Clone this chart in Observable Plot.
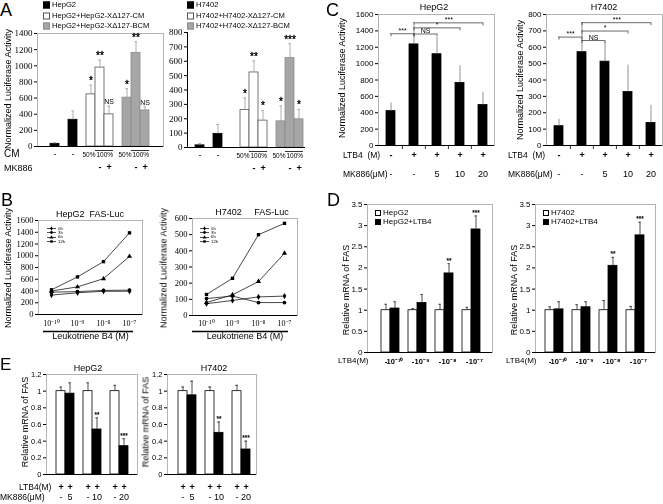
<!DOCTYPE html>
<html><head><meta charset="utf-8">
<script src="https://cdn.jsdelivr.net/npm/d3@7"></script>
<script src="https://cdn.jsdelivr.net/npm/@observablehq/plot@0.6"></script>
<style>
body{margin:0;background:#fff;}
#root{position:relative;width:663px;height:504px;overflow:hidden;font-family:"Liberation Sans",Arial,sans-serif;color:#000;background:#fff;}
.t{position:absolute;white-space:pre;line-height:1;}
#root svg{will-change:transform;}
</style></head><body><div id="root"></div>
<script>
// ================= DATA =================
// Panel A
const A_bars = ["b1","b2","w1","w2","w3","g1","g2","g3"];
const A_fills = ["#000","#000","#fff","#fff","#fff","#a6a6a6","#a6a6a6","#a6a6a6"];
const A_strokes = ["#000","#000","#555","#555","#555","#8c8c8c","#8c8c8c","#8c8c8c"];
const A1_values = [33, 331, 646, 978, 398, 605, 1160, 447];
const A1_errors = [48, 440, 760, 1070, 500, 717, 1297, 490];
const A1_stars = ["", "", "*", "**", "NS", "*", "**", "NS"];
const A2_values = [15, 95, 261, 522, 187, 182, 622, 196];
const A2_errors = [28, 160, 345, 603, 258, 290, 722, 265];
const A2_stars = ["", "", "*", "**", "*", "*", "***", "*"];
const A_cmKeys = ["b1","b2"];
const A_cmLabels = ["-","-"];
const A_cm50Keys = ["w1","g1"];
const A_cm50Labels = ["50%","50%"];
const A_cm100Keys = ["w2","g2"];
const A_cm100Labels = ["100%","100%"];
const A_mkKeys = ["w2","w3","g2","g3"];
const A_mkLabels = ["-","+","-","+"];
const A1_legend = ["HepG2","HepG2+HepG2-X\u0394127-CM","HepG2+HepG2-X\u0394127-BCM"];
const A2_legend = ["H7402","H7402+H7402-X\u0394127-CM","H7402+H7402-X\u0394127-BCM"];

// Panel B
const B_doses = ["1e-10","1e-9","1e-8","1e-7"];
const B_doseLabels = ["10\u207B\u00B9\u2070","10\u207B\u2079","10\u207B\u2078","10\u207B\u2077"];
const B_times = ["0h","3h","6h","12h"];
const B_symbols = ["diamond","circle","triangle","square"];
const B1_0h = [330, 370, 395, 395];
const B1_3h = [380, 390, 410, 415];
const B1_6h = [400, 470, 610, 990];
const B1_12h = [420, 640, 900, 1390];
const B2_0h = [73, 93, 115, 120];
const B2_3h = [105, 120, 80, 80];
const B2_6h = [80, 128, 210, 385];
const B2_12h = [130, 230, 500, 570];

// Panel C
const C_bars = ["1","2","3","4","5"];
const C_ltb4 = ["-","+","+","+","+"];
const C_mk886 = ["-","-","5","10","20"];
const C1_values = [420, 1235, 1115, 765, 495];
const C1_errors = [520, 1460, 1320, 975, 650];
const C2_values = [118, 570, 512, 327, 138];
const C2_errors = [160, 750, 630, 490, 245];
const C1_brackets = [{a:"1",b:"2",y:1365,t:"***"},{a:"2",b:"3",y:1362,t:"NS"},{a:"2",b:"4",y:1437,t:"*"},{a:"2",b:"5",y:1498,t:"***"}];
const C2_brackets = [{a:"1",b:"2",y:662,t:"***"},{a:"2",b:"3",y:641,t:"NS"},{a:"2",b:"4",y:699,t:"*"},{a:"2",b:"5",y:750,t:"***"}];

// Panel D
const D_doses = ["10\u207B\u00B9\u2070","10\u207B\u2079","10\u207B\u2078","10\u207B\u2077"];
const D1_ctrl = [1, 1, 1, 1];
const D1_ctrlErr = [1.14, 1.04, 1.14, 1.07];
const D1_ltb4 = [1.04, 1.17, 1.87, 2.91];
const D1_ltb4Err = [1.2, 1.37, 2.1, 3.23];
const D2_ctrl = [1, 1, 1, 1];
const D2_ctrlErr = [1.08, 1.13, 1.23, 1.09];
const D2_ltb4 = [1.02, 1.07, 2.05, 2.77];
const D2_ltb4Err = [1.2, 1.2, 2.25, 3.08];
const D_stars = ["", "", "**", "***"];
const D1_legend = ["HepG2","HepG2+LTB4"];
const D2_legend = ["H7402","H7402+LTB4"];

// Panel E
const E_mk886 = ["5","10","20"];
const E1_ctrl = [1, 1, 1];
const E1_ctrlErr = [1.05, 1.1, 1.07];
const E1_mk = [0.97, 0.54, 0.34];
const E1_mkErr = [1.1, 0.68, 0.43];
const E2_ctrl = [1, 1, 1];
const E2_ctrlErr = [1.05, 1.05, 1.07];
const E2_mk = [0.95, 0.5, 0.3];
const E2_mkErr = [1.12, 0.63, 0.4];
const E_stars = ["", "**", "***"];

// ================= HELPERS =================
const SANS = '"Liberation Sans", Arial, sans-serif';
const SERIF = '"Liberation Serif", "Times New Roman", serif';
const FRAME = "#b4b4b4";
const root = document.getElementById("root");
function put(el, x, y){ el.style.position="absolute"; el.style.left=x+"px"; el.style.top=y+"px"; root.appendChild(el); return el; }
function label(text, x, y, o={}){
  const d=document.createElement("div"); d.className="t"; d.textContent=text;
  d.style.fontSize=(o.size||9)+"px"; d.style.fontWeight=o.weight||"normal";
  if(o.family) d.style.fontFamily=o.family;
  const tx=o.anchor==="middle"?"-50%":o.anchor==="end"?"-100%":"0";
  d.style.transform=`translate(${tx},-50%)`;
  return put(d,x,y);
}
function vlabel(text, cx, cy, size=9){
  const d=document.createElement("div"); d.className="t"; d.textContent=text; d.style.fontSize=size+"px";
  d.style.transform="translate(-50%,-50%) rotate(-90deg)";
  return put(d,cx,cy);
}
function swatch(x, y, fill, stroke, s=6){
  const d=document.createElement("div");
  d.style.width=s+"px"; d.style.height=s+"px"; d.style.background=fill; d.style.border=`1px solid ${stroke}`;
  d.style.boxSizing="border-box"; d.style.transform="translateY(-50%)";
  return put(d,x,y);
}
const symbolMap = {diamond:d3.symbolDiamond, circle:d3.symbolCircle, triangle:d3.symbolTriangle, square:d3.symbolSquare};
function legendB(x, y0, gap, names, symbols){
  names.forEach((nm,i)=>{
    const y=y0+i*gap;
    const d=document.createElement("div");
    d.innerHTML=`<svg width="9" height="5" style="display:block"><line x1="0" y1="2.5" x2="9" y2="2.5" stroke="#000" stroke-width="0.7"/><path transform="translate(4.5,2.5)" d="${d3.symbol(symbolMap[symbols[i]],6)()}" fill="#000"/></svg>`;
    put(d,x,y-2.5);
    label(nm,x+11,y,{size:4.3});
  });
}

function mkBar(o){
  const pi=o.paddingInner??0, po=o.paddingOuter??0;
  const n=o.slots.length;
  const R=o.W-o.mL-o.mR-(o.insetL||0)-(o.insetR||0);
  const step=R/(n-pi+2*po);
  const bw=step*(1-pi);
  const idx=k=>o.slots.indexOf(k);
  const data=o.keys.map((k,i)=>({k, v:o.values[i], e:o.errors[i], s:(o.stars||[])[i]||"", f:o.fills[i], st:o.strokes[i]}));
  const errC=o.errColor||"#333";
  const starSize=o.starSize||9;
  const marks=[];
  if(o.frame) marks.push(Plot.frame({stroke:o.frame}));
  marks.push(Plot.barY(data,{x:"k",y:"v",fill:"f",stroke:"st",strokeWidth:0.8}));
  marks.push(Plot.ruleX(data,{x:"k",y1:"v",y2:"e",stroke:errC,strokeWidth:0.8}));
  if(o.cap) marks.push(Plot.tickY(data,{x:"k",y:"e",stroke:errC,strokeWidth:0.8,insetLeft:(bw-o.cap)/2,insetRight:(bw-o.cap)/2}));
  marks.push(Plot.text(data.filter(d=>d.s && d.s!=="NS"),{x:"k",y:"e",text:"s",dy:o.starDy??-1,lineAnchor:"bottom",fontSize:starSize,fontFamily:SANS,fill:"#000",stroke:"#000",strokeWidth:o.starStroke??0.35}));
  marks.push(Plot.text(data.filter(d=>d.s==="NS"),{x:"k",y:"e",text:"s",dy:-2,lineAnchor:"bottom",fontSize:7,fontFamily:SANS,fill:"#000"}));
  marks.push(Plot.ruleY([0],{stroke:"#000",strokeWidth:1}));
  for(const r of o.rows||[]){
    const rd=r.keys.map((k,i)=>({k,t:r.labels[i]}));
    marks.push(Plot.text(rd,{x:"k",y:()=>0,text:"t",dy:r.dy,dx:(r.half?step/2:0)+(r.dx||0),fontSize:r.size||9,fontWeight:r.weight||"normal",fontFamily:SANS,fill:"#000"}));
  }
  for(const ol of o.overlines||[]) marks.push(Plot.ruleY([ol],{x1:"a",x2:"b",y:()=>0,dy:ol.dy,stroke:"#000",strokeWidth:0.8}));
  for(const b of o.brackets||[]){
    marks.push(Plot.ruleY([b],{x1:"a",x2:"b",y:"y",insetLeft:bw/2,insetRight:bw/2,stroke:"#444",strokeWidth:0.8}));
    marks.push(Plot.ruleX([b.a,b.b],{x:d=>d,y1:()=>b.y,y2:()=>b.y,insetBottom:-3,stroke:"#444",strokeWidth:0.8}));
    marks.push(Plot.text([b],{x:"a",y:"y",text:"t",dx:step*(idx(b.b)-idx(b.a))/2,dy:-1,lineAnchor:"bottom",fontSize:7,fontFamily:SANS,fill:"#000"}));
  }
  if(o.boundaryTicks) marks.push(Plot.ruleX(o.slots.slice(1),{x:d=>d,y1:()=>0,y2:()=>0,insetBottom:-4,dx:-step/2,stroke:"#000",strokeWidth:0.8}));
  const chart=Plot.plot({
    width:o.W,height:o.H,marginLeft:o.mL,marginRight:o.mR,marginTop:o.mT,marginBottom:o.mB,
    style:{fontFamily:o.font,fontSize:o.tickFont+"px",background:"transparent",color:"#000",overflow:"visible"},
    x:{type:"band",domain:o.slots,paddingInner:pi,paddingOuter:po,align:0.5,insetLeft:o.insetL||0,insetRight:o.insetR||0,axis:null},
    y:{domain:[0,o.yMax],ticks:o.yTicks,tickFormat:d3.format("~g"),tickSize:3,tickPadding:2,label:null,line:true},
    marks
  });
  put(chart,o.L,o.T);
  return chart;
}

function mkLine(o){
  const marks=[Plot.frame({stroke:FRAME})];
  o.series.forEach((vals,j)=>{
    const d=o.xs.map((x,i)=>({x,y:vals[i]}));
    marks.push(Plot.line(d,{x:"x",y:"y",stroke:"#1a1a1a",strokeWidth:0.8}));
    marks.push(Plot.dot(d,{x:"x",y:"y",symbol:o.symbols[j],fill:"#000",r:1.9}));
  });
  marks.push(Plot.ruleY([0],{stroke:"#000"}));
  marks.push(Plot.text(o.xs.map((x,i)=>({x,t:o.xLabels[i]})),{x:"x",y:()=>0,text:"t",dy:o.labelDy,fontSize:8,fontFamily:SERIF,fill:"#000"}));
  marks.push(Plot.ruleY([0],{dy:o.underDy,strokeWidth:1.6,insetLeft:o.underL,insetRight:o.underR,stroke:"#000"}));
  marks.push(Plot.text([o.xTitle],{frameAnchor:"bottom",dy:o.titleDy,fontSize:9,fontFamily:SANS,fill:"#000"}));
  const chart=Plot.plot({
    width:o.W,height:o.H,marginLeft:o.mL,marginRight:o.mR,marginTop:o.mT,marginBottom:o.mB,
    style:{fontFamily:SERIF,fontSize:"8.5px",background:"transparent",color:"#000",overflow:"visible"},
    x:{type:"point",domain:o.xs,padding:0.5,axis:null},
    y:{domain:[0,o.yMax],ticks:o.yTicks,tickFormat:d3.format("~g"),tickSize:3,tickPadding:2,label:null,line:true},
    marks
  });
  put(chart,o.L,o.T);
}

// ================= PANEL A =================
label("A",0,10,{size:18});
const A_rows=[
  {keys:A_cmKeys,labels:A_cmLabels,dy:8,size:9},
  {keys:A_cm50Keys,labels:A_cm50Labels,dy:8,size:6.5,dx:-2},
  {keys:A_cm100Keys,labels:A_cm100Labels,dy:8,size:6.5,half:true},
  {keys:A_mkKeys,labels:A_mkLabels,dy:21,size:9,weight:"bold"}
];
const A_over=[{a:"w2",b:"w3",dy:4},{a:"g2",b:"g3",dy:4}];
mkBar({L:0,T:0,W:168,H:178,mL:37,mR:5,mT:33,mB:32,insetR:11,
  slots:["s0","b1","s1","b2","s2","w1","w2","w3","s3","g1","g2","g3"],
  keys:A_bars,values:A1_values,errors:A1_errors,stars:A1_stars,fills:A_fills,strokes:A_strokes,
  errColor:"#999",cap:3,starSize:10,yMax:1400,yTicks:d3.range(0,1401,200),font:SERIF,tickFont:9,
  frame:FRAME,rows:A_rows,overlines:A_over});
mkBar({L:168,T:0,W:145,H:178,mL:19,mR:8,mT:32,mB:31,insetL:5,
  slots:["b1","s1","b2","s2","s2b","w1","w2","w3","s3","g1","g2","g3"],
  keys:A_bars,values:A2_values,errors:A2_errors,stars:A2_stars,fills:A_fills,strokes:A_strokes,
  errColor:"#999",cap:3,starSize:10,yMax:800,yTicks:d3.range(0,801,100),font:SERIF,tickFont:9,
  rows:A_rows,overlines:A_over});
vlabel("Normalized Luciferase Activity",8,89,9);
label("CM",4,154,{size:10});
label("MK886",4,168,{size:9});
[[43,A1_legend],[187,A2_legend]].forEach(([x,names])=>{
  names.forEach((nm,i)=>{
    const y=5+i*10.5;
    swatch(x,y,A_fills[[0,2,5][i]],A_strokes[[0,2,5][i]],7);
    label(nm,x+9,y,{size:7.6});
  });
});

// ================= PANEL C =================
label("C",326,10,{size:18});
const C_rows=[{keys:C_bars,labels:C_ltb4,dy:10,size:9,weight:"bold"},{keys:C_bars,labels:C_mk886,dy:29,size:9}];
mkBar({L:340,T:0,W:156,H:180,mL:38,mR:2,mT:14,mB:35,paddingInner:0.63,paddingOuter:0.315,
  slots:C_bars,keys:C_bars,values:C1_values,errors:C1_errors,fills:C_bars.map(()=>"#000"),strokes:C_bars.map(()=>"#000"),
  errColor:"#777",cap:0,yMax:1600,yTicks:d3.range(0,1601,200),font:SANS,tickFont:8,frame:FRAME,
  rows:C_rows,brackets:C1_brackets,boundaryTicks:true});
mkBar({L:505,T:0,W:158,H:180,mL:41,mR:1,mT:14,mB:35,paddingInner:0.63,paddingOuter:0.315,
  slots:C_bars,keys:C_bars,values:C2_values,errors:C2_errors,fills:C_bars.map(()=>"#000"),strokes:C_bars.map(()=>"#000"),
  errColor:"#777",cap:0,yMax:800,yTicks:d3.range(0,801,100),font:SANS,tickFont:8,frame:FRAME,
  rows:C_rows,brackets:C2_brackets,boundaryTicks:true});
label("HepG2",434,7,{size:9,anchor:"middle"});
label("H7402",604,7,{size:9,anchor:"middle"});
vlabel("Normalized Luciferase Activity",342,78,9);
vlabel("Normalized Luciferase Activity",520,80,9);
label("LTB4  (M)",343,155,{size:8.5});
label("MK886(\u03BCM)",343,174,{size:8.5});
label("LTB4  (M)",508,155,{size:8.5});
label("MK886(\u03BCM)",508,174,{size:8.5});

// ================= PANEL B =================
label("B",1,200,{size:18});
mkLine({L:0,T:200,W:150,H:145,mL:38,mR:8,mT:20,mB:31,xs:B_doses,xLabels:B_doseLabels,
  series:[B1_0h,B1_3h,B1_6h,B1_12h],symbols:B_symbols,yMax:1600,yTicks:d3.range(0,1601,200),
  labelDy:9,underDy:17,underL:5,underR:9,titleDy:24,xTitle:"Leukotriene B4 (M)"});
mkLine({L:150,T:200,W:152,H:145,mL:42,mR:5,mT:18,mB:30,xs:B_doses,xLabels:B_doseLabels,
  series:[B2_0h,B2_3h,B2_6h,B2_12h],symbols:B_symbols,yMax:600,yTicks:d3.range(0,601,100),
  labelDy:8,underDy:16,underL:0,underR:9,titleDy:23,xTitle:"Leukotriene B4 (M)"});
label("HepG2  FAS-Luc",90,214,{size:9,anchor:"middle"});
label("H7402     FAS-Luc",252,212,{size:9,anchor:"middle"});
vlabel("Normalized Luciferase Activity",8,268,9);
vlabel("Normalized Luciferase Activity",164,268,9);
legendB(47,228.5,4.4,B_times,B_symbols);
legendB(200,228.5,4.4,B_times,B_symbols);

// ================= PANEL D =================
label("D",327,200,{size:18});
const D_slots=["w1","b1","s1","w2","b2","s2","w3","b3","s3","w4","b4"];
const D_keys=["w1","b1","w2","b2","w3","b3","w4","b4"];
const D_fills=D_keys.map(k=>k[0]==="w"?"#fff":"#000");
const D_rows=[{keys:["w1","w2","w3","w4"],labels:["-","-","-","-"],dy:9,size:7.5,weight:"bold"},
  {keys:["b1","b2","b3","b4"],labels:D_doses,dy:9,size:7.5,weight:"bold"}];
function inter(a,b){return a.flatMap((v,i)=>[v,b[i]]);}
mkBar({L:330,T:195,W:165,H:175,mL:37,mR:3,mT:9,mB:18,insetL:10,insetR:8,
  slots:D_slots,keys:D_keys,values:inter(D1_ctrl,D1_ltb4),errors:inter(D1_ctrlErr,D1_ltb4Err),
  stars:inter(["","","",""],D_stars),fills:D_fills,strokes:D_keys.map(()=>"#000"),
  errColor:"#222",cap:3,starSize:6.5,starStroke:0.2,yMax:3.5,yTicks:d3.range(0,3.51,0.5),font:SANS,tickFont:8,frame:FRAME,rows:D_rows});
mkBar({L:497,T:195,W:163,H:175,mL:38,mR:5,mT:9,mB:18,insetL:7,insetR:8,
  slots:D_slots,keys:D_keys,values:inter(D2_ctrl,D2_ltb4),errors:inter(D2_ctrlErr,D2_ltb4Err),
  stars:inter(["","","",""],D_stars),fills:D_fills,strokes:D_keys.map(()=>"#000"),
  errColor:"#222",cap:3,starSize:6.5,starStroke:0.2,yMax:3.5,yTicks:d3.range(0,3.51,0.5),font:SANS,tickFont:8,frame:FRAME,rows:D_rows});
vlabel("Relative mRNA of FAS",346,290,9);
vlabel("Relative mRNA of FAS",514,290,9);
label("LTB4(M)",338,361,{size:8});
label("LTB4(M)",506,361,{size:8});
[[375,D1_legend],[543,D2_legend]].forEach(([x,names])=>{
  names.forEach((nm,i)=>{
    const y=213+i*9;
    swatch(x,y,i?"#000":"#fff","#000",6);
    label(nm,x+8,y,{size:8});
  });
});

// ================= PANEL E =================
label("E",0,364,{size:17});
const E_slots=["w1","b1","s1","w2","b2","s2","w3","b3"];
const E_keys=["w1","b1","w2","b2","w3","b3"];
const E_fills=E_keys.map(k=>k[0]==="w"?"#fff":"#000");
const E_rows=[{keys:E_keys,labels:E_keys.map(()=>"+"),dy:13,size:9,weight:"bold"},
  {keys:["w1","w2","w3"],labels:["-","-","-"],dy:23,size:9},
  {keys:["b1","b2","b3"],labels:E_mk886,dy:23,size:9}];
mkBar({L:0,T:365,W:140,H:139,mL:46,mR:3,mT:9,mB:30,insetL:7,insetR:7,
  slots:E_slots,keys:E_keys,values:inter(E1_ctrl,E1_mk),errors:inter(E1_ctrlErr,E1_mkErr),
  stars:inter(["","",""],E_stars),fills:E_fills,strokes:E_keys.map(()=>"#000"),
  errColor:"#222",cap:3,starSize:6.5,starStroke:0.2,yMax:1.2,yTicks:d3.range(0,1.21,0.2),font:SANS,tickFont:7.5,frame:FRAME,rows:E_rows});
mkBar({L:145,T:365,W:115,H:139,mL:22,mR:4,mT:9,mB:30,insetL:10,insetR:6,
  slots:E_slots,keys:E_keys,values:inter(E2_ctrl,E2_mk),errors:inter(E2_ctrlErr,E2_mkErr),
  stars:inter(["","",""],E_stars),fills:E_fills,strokes:E_keys.map(()=>"#000"),
  errColor:"#222",cap:3,starSize:6.5,starStroke:0.2,yMax:1.2,yTicks:d3.range(0,1.21,0.2),font:SANS,tickFont:7.5,frame:FRAME,rows:E_rows});
label("HepG2",88,368,{size:9,anchor:"middle"});
label("H7402",214,368,{size:9,anchor:"middle"});
vlabel("Relative mRNA of FAS",25,422,9);
vlabel("Relative mRNA of FAS",146,422,9);
label("LTB4(M)",19,487,{size:8.5});
label("MK886(\u03BCM)",0,497,{size:8.5});
</script></body></html>
